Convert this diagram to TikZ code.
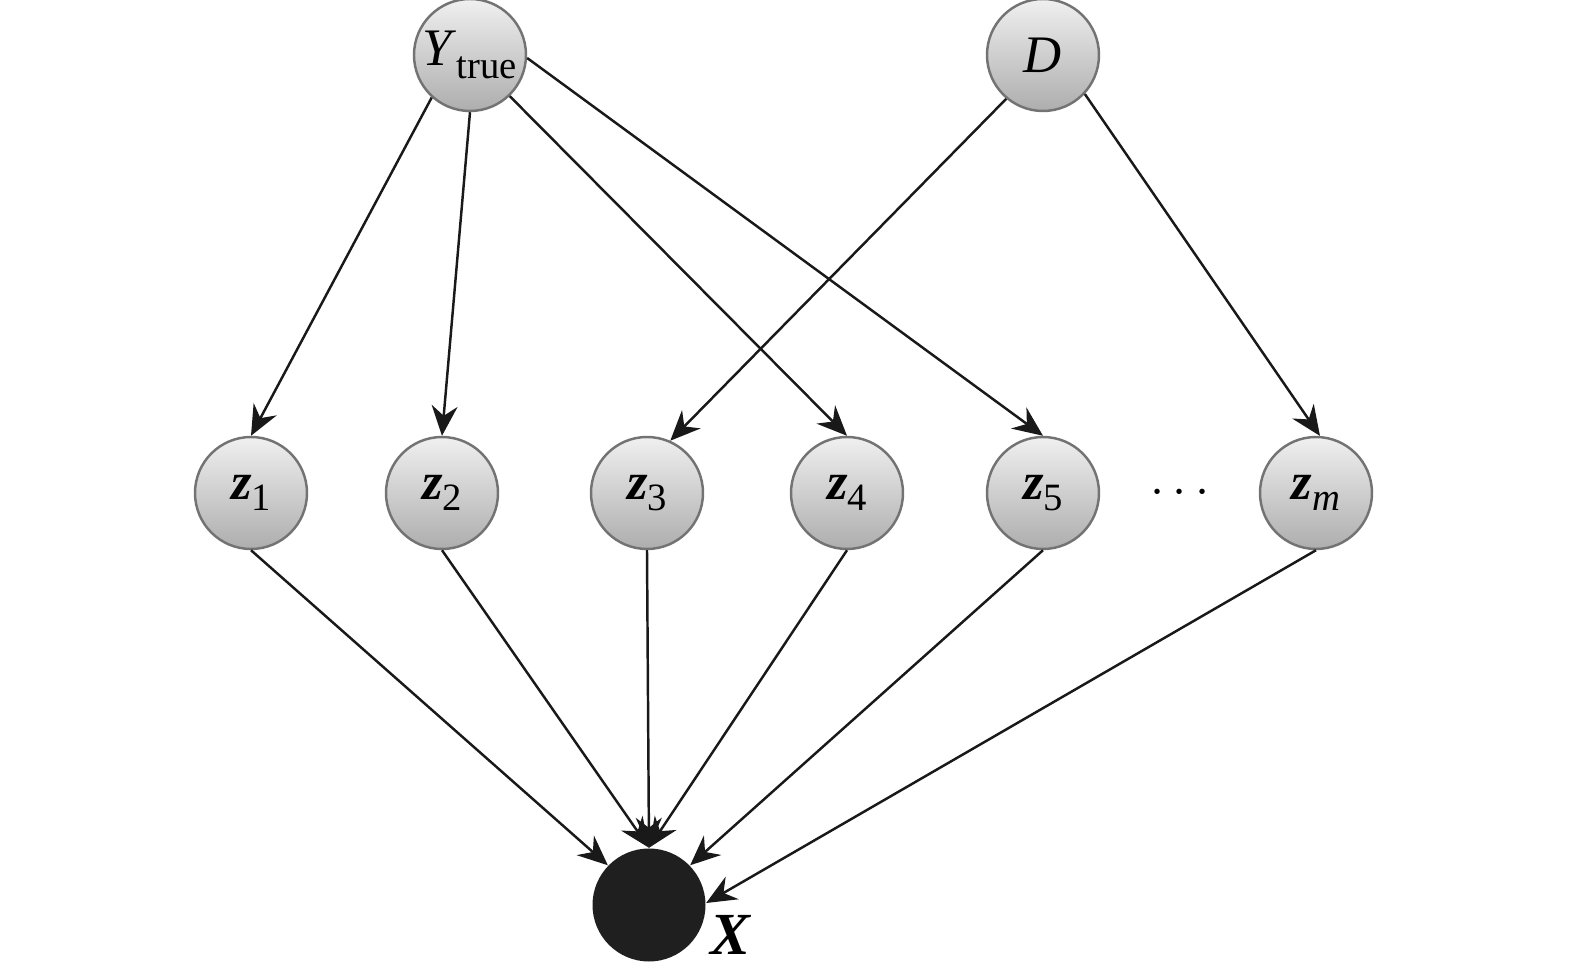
\documentclass[tikz,border=0pt]{standalone}
\usepackage{fontspec}
\setmainfont{Liberation Serif}
\usetikzlibrary{arrows.meta}
\newcommand{\zv}[1]{{\bfseries\itshape z}\raisebox{-0.45ex}{\fontsize{11}{11}\selectfont #1}}

\begin{document}
\begin{tikzpicture}[
  latent/.style={circle, draw=black!55, line width=0.7pt, top color=black!6, bottom color=black!32,
    minimum size=1.12cm, inner sep=0pt, font=\fontsize{15}{18}\selectfont},
  observed/.style={circle, fill=black!88, minimum size=1.13cm, inner sep=0pt},
  edge/.style={-{Stealth[length=3mm, width=2.6mm, inset=1mm]}, line width=0.7pt, black!90}]

\useasboundingbox (0,0) rectangle (15.75,9.75);

\node[latent] (Ytrue) at (4.70, 9.20) {\textit{Y}\raisebox{-0.55ex}{\fontsize{11}{11}\selectfont true}};
\node[latent] (D) at (10.43, 9.20) {\textit{D}};

\node[latent] (z1) at (2.51, 4.82) {\zv{1}};
\node[latent] (z2) at (4.42, 4.82) {\zv{2}};
\node[latent] (z3) at (6.47, 4.82) {\zv{3}};
\node[latent] (z4) at (8.47, 4.82) {\zv{4}};
\node[latent] (z5) at (10.43, 4.82) {\zv{5}};
\node (dots) at (11.80, 4.82) {\fontsize{15}{18}\selectfont $\cdots$};
\node[latent] (zm) at (13.16, 4.82) {\zv{\textit{m}}};

\node[observed] (X) at (6.49, 0.70) {};
\node[font=\fontsize{17}{20}\selectfont\bfseries\itshape] (Xlab) at (7.30, 0.40) {X};

% top layer
\draw[edge] (Ytrue.228) -- (z1.north);
\draw[edge] (Ytrue.south) -- (z2.north);
\draw[edge] (Ytrue.314) -- (z4.north);
\draw[edge] (Ytrue.357) -- (z5.north);
\draw[edge] (D.230) -- (z3.66);
\draw[edge] (D.317) -- (zm.86);

% into X
\draw[edge] (z1.south) -- (X.136);
\draw[edge] (z2.south) -- (X.north);
\draw[edge] (z3.south) -- (X.north);
\draw[edge] (z4.south) -- (X.north);
\draw[edge] (z5.south) -- (X.44);
\draw[edge] (zm.south) -- (X.2);

\end{tikzpicture}
\end{document}
